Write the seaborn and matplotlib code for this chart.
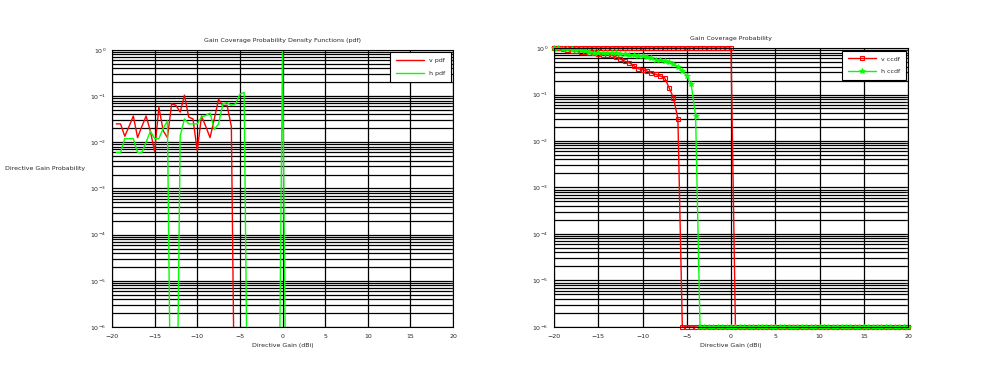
"""
Gain coverage pdf / ccdf (semilog) - two panels side by side.
Output: out.png
"""

import numpy as np
import pandas as pd
import matplotlib
matplotlib.use("Agg")
import matplotlib.pyplot as plt
from matplotlib.ticker import LogLocator, NullFormatter, FixedLocator
import seaborn as sns

# ==========================================
# 1. DATA
# ==========================================
TINY = 1e-10   # empty pdf bins (drawn far below the axis)
FLOOR = 1e-6   # empty ccdf bins (sit on the bottom of the axis)

# pdf panel, 0.5 dB bins from -19.5 to 5
pdf_gain = [-19.5, -19.0, -18.5, -18.0, -17.5, -17.0, -16.5, -16.0, -15.5, -15.0,
            -14.5, -14.0, -13.5, -13.0, -12.5, -12.0, -11.5, -11.0, -10.5, -10.0,
            -9.5, -9.0, -8.5, -8.0, -7.5, -7.0, -6.5, -6.0, -5.5, -5.0,
            -4.5, -4.0, -3.5, -3.0, -2.5, -2.0, -1.5, -1.0, -0.5, 0.0,
            0.5, 1.0, 1.5, 2.0, 2.5, 3.0, 3.5, 4.0, 4.5, 5.0]
v_pdf = [0.025, 0.025, 0.0135, 0.022, 0.037, 0.0126, 0.022, 0.037, 0.0174, 0.0063,
         0.058, 0.0178, 0.0126, 0.068, 0.063, 0.045, 0.105, 0.035, 0.032, 0.0065,
         0.037, 0.022, 0.0126, 0.032, 0.085, 0.062, 0.063, 0.022, TINY, TINY,
         TINY, TINY, TINY, TINY, TINY, TINY, TINY, TINY, TINY, TINY,
         TINY, TINY, TINY, TINY, TINY, TINY, TINY, TINY, TINY, TINY]
h_pdf = [0.006, 0.006, 0.012, 0.012, 0.012, 0.006, 0.006, 0.010, 0.0174, 0.012,
         0.012, 0.020, 0.029, TINY, TINY, 0.0138, 0.032, 0.025, 0.025, 0.025,
         0.035, 0.038, 0.043, 0.019, 0.025, 0.068, 0.072, 0.063, 0.068, 0.11,
         0.12, TINY, TINY, TINY, TINY, TINY, TINY, TINY, TINY, 1.3,
         TINY, TINY, TINY, TINY, TINY, TINY, TINY, TINY, TINY, TINY]

# ccdf panel, 0.5 dB steps from -20 to 20
ccdf_gain = [-20.0, -19.5, -19.0, -18.5, -18.0, -17.5, -17.0, -16.5, -16.0, -15.5,
             -15.0, -14.5, -14.0, -13.5, -13.0, -12.5, -12.0, -11.5, -11.0, -10.5,
             -10.0, -9.5, -9.0, -8.5, -8.0, -7.5, -7.0, -6.5, -6.0, -5.5,
             -5.0, -4.5, -4.0, -3.5, -3.0, -2.5, -2.0, -1.5, -1.0, -0.5,
             0.0, 0.5, 1.0, 1.5, 2.0, 2.5, 3.0, 3.5, 4.0, 4.5,
             5.0, 5.5, 6.0, 6.5, 7.0, 7.5, 8.0, 8.5, 9.0, 9.5,
             10.0, 10.5, 11.0, 11.5, 12.0, 12.5, 13.0, 13.5, 14.0, 14.5,
             15.0, 15.5, 16.0, 16.5, 17.0, 17.5, 18.0, 18.5, 19.0, 19.5, 20.0]
v_ccdf = [1.0, 0.99, 0.97, 0.92, 0.88, 0.86, 0.84, 0.82, 0.80, 0.77,
          0.74, 0.72, 0.71, 0.70, 0.64, 0.575, 0.52, 0.48, 0.42, 0.36,
          0.34, 0.32, 0.29, 0.27, 0.25, 0.23, 0.14, 0.085, 0.03] + [FLOOR] * 52
v_ccdf_upper = [1.0] * 41 + [FLOOR] * 40
h_ccdf = [1.0, 0.99, 0.97, 0.95, 0.93, 0.91, 0.89, 0.87, 0.82, 0.80,
          0.79, 0.79, 0.78, 0.78, 0.77, 0.76, 0.74, 0.72, 0.70, 0.68,
          0.66, 0.63, 0.60, 0.56, 0.54, 0.52, 0.50, 0.46, 0.40, 0.32,
          0.25, 0.165, 0.035] + [FLOOR] * 48

X_TICKS = [-20, -15, -10, -5, 0, 5, 10, 15, 20]
Y_TICKS = [1e-6, 1e-5, 1e-4, 1e-3, 1e-2, 1e-1, 1e0]

RED = "#ff0000"
GREEN = "#00ff00"
FS = 4.5

# ==========================================
# 2. STYLE
# ==========================================
sns.set_style("white")
plt.rcParams["font.family"] = ["DejaVu Sans"]
plt.rcParams["mathtext.default"] = "regular"

fig = plt.figure(figsize=(10, 3.78), dpi=100)
ax1 = fig.add_axes([0.112, 0.135, 0.341, 0.733])
ax2 = fig.add_axes([0.554, 0.135, 0.354, 0.738])


def style_axis(ax):
    ax.set_yscale("log")
    ax.set_xlim(-20, 20)
    ax.set_ylim(1e-6, 1e0)
    ax.xaxis.set_major_locator(FixedLocator(X_TICKS))
    ax.yaxis.set_major_locator(FixedLocator(Y_TICKS))
    ax.yaxis.set_minor_locator(LogLocator(base=10, subs=np.arange(2, 10), numticks=50))
    ax.yaxis.set_minor_formatter(NullFormatter())
    ax.set_yticklabels([r"$10^{%d}$" % int(np.log10(v)) for v in Y_TICKS])
    ax.grid(True, which="major", color="black", linewidth=0.9)
    ax.grid(True, which="minor", axis="y", color="black", linewidth=0.9)
    ax.tick_params(which="both", direction="in", top=True, right=True,
                   length=2, width=0.6, labelsize=FS)
    ax.tick_params(axis="x", pad=5)
    ax.tick_params(axis="y", pad=4)
    for s in ax.spines.values():
        s.set_color("black")
        s.set_linewidth(0.8)
    ax.set_xlabel("Directive Gain (dBi)", fontsize=FS, labelpad=3)


# ==========================================
# 3. PDF PANEL
# ==========================================
pdf_df = pd.DataFrame({"gain": pdf_gain, "v": v_pdf, "h": h_pdf})
sns.lineplot(data=pdf_df, x="gain", y="v", ax=ax1, color=RED, linewidth=1.0,
             estimator=None, sort=False, label="v pdf")
sns.lineplot(data=pdf_df, x="gain", y="h", ax=ax1, color=GREEN, linewidth=1.0,
             estimator=None, sort=False, label="h pdf")
style_axis(ax1)
ax1.set_ylabel("")
ax1.set_title("Gain Coverage Probability Density Functions (pdf)", fontsize=FS, pad=6)
leg1 = ax1.legend(loc="upper right", fontsize=FS, frameon=True, fancybox=False,
                  edgecolor="black", framealpha=1, handlelength=4.5,
                  borderpad=0.9, labelspacing=1.2, borderaxespad=0.4)
leg1.get_frame().set_linewidth(0.8)

# ==========================================
# 4. CCDF PANEL
# ==========================================
ccdf_df = pd.DataFrame({"gain": ccdf_gain, "v": v_ccdf, "v_top": v_ccdf_upper, "h": h_ccdf})
sns.lineplot(data=ccdf_df, x="gain", y="v_top", ax=ax2, color=RED, linewidth=1.0,
             marker="s", markersize=3.2, markerfacecolor="none", markeredgecolor=RED,
             markeredgewidth=0.8, estimator=None, sort=False, clip_on=False, label="_top")
sns.lineplot(data=ccdf_df, x="gain", y="v", ax=ax2, color=RED, linewidth=1.0,
             marker="s", markersize=3.2, markerfacecolor="none", markeredgecolor=RED,
             markeredgewidth=0.8, estimator=None, sort=False, clip_on=False, label="v ccdf")
sns.lineplot(data=ccdf_df, x="gain", y="h", ax=ax2, color=GREEN, linewidth=1.0,
             marker="*", markersize=4, markerfacecolor=GREEN, markeredgecolor=GREEN,
             markeredgewidth=0.6, estimator=None, sort=False, clip_on=False, label="h ccdf")
style_axis(ax2)
ax2.set_ylabel("")
ax2.set_title("Gain Coverage Probability", fontsize=FS, pad=6)
handles, labels = ax2.get_legend_handles_labels()
keep = [i for i, l in enumerate(labels) if not l.startswith("_")]
leg2 = ax2.legend([handles[i] for i in keep], [labels[i] for i in keep],
                  loc="upper right", fontsize=FS, frameon=True, fancybox=False,
                  edgecolor="black", framealpha=1, handlelength=4.5,
                  borderpad=0.9, labelspacing=1.2, borderaxespad=0.4)
leg2.get_frame().set_linewidth(0.8)

fig.text(0.005, 0.555, "Directive Gain Probability", fontsize=FS, ha="left", va="center")

fig.savefig("out.png", dpi=100)
plt.close(fig)
